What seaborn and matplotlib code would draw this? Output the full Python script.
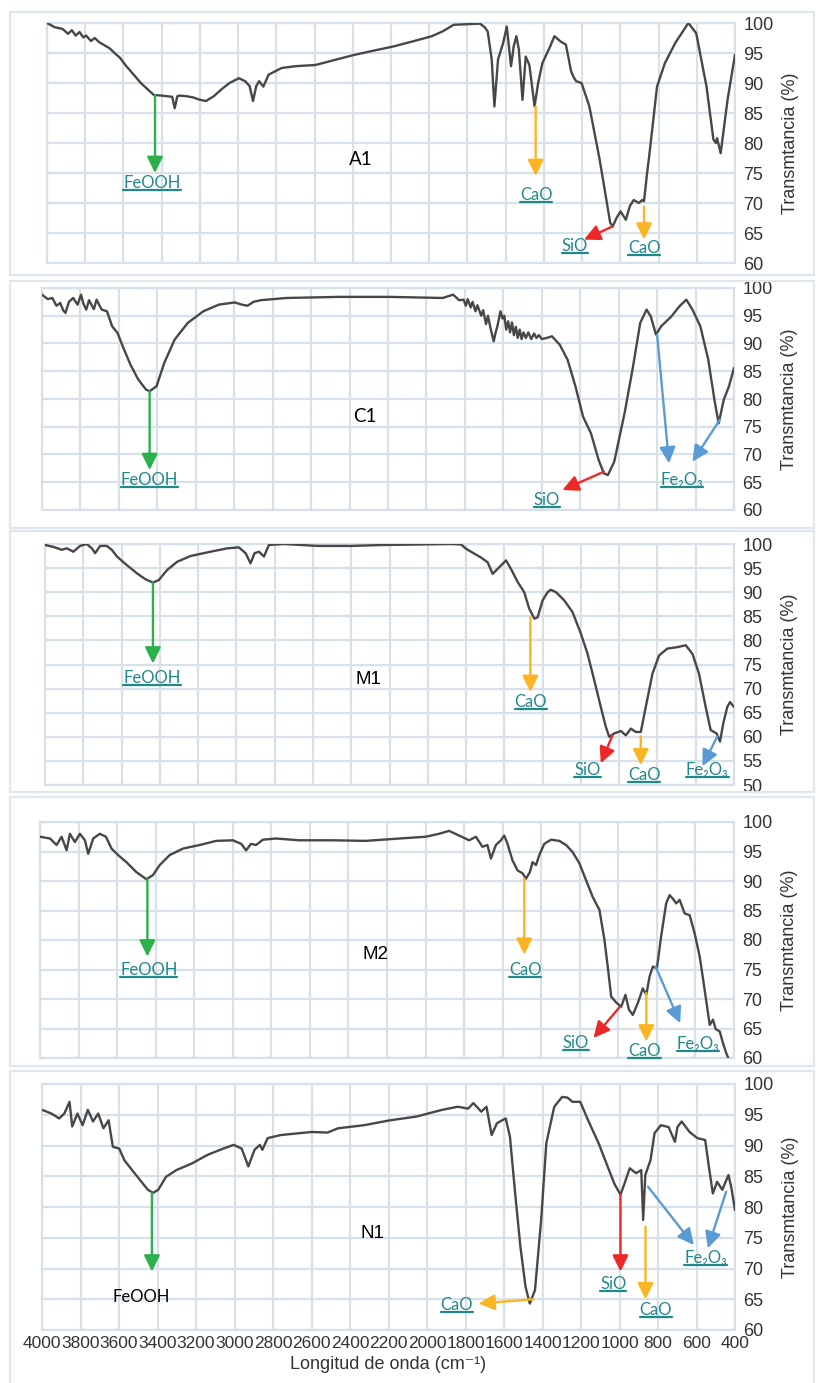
"""
FTIR spectra of five samples (A1, C1, M1, M2, N1) with band assignments.
"""
import matplotlib
matplotlib.use("Agg")
import matplotlib.pyplot as plt
import seaborn as sns
from matplotlib.patches import Rectangle
from matplotlib.lines import Line2D

# ---------------------------------------------------------------- data
A1_WN = [4000, 3960, 3918, 3890, 3870, 3850, 3830, 3810, 3795, 3770, 3750, 3727, 3700, 3673,
         3640, 3618, 3590, 3563, 3536, 3509, 3475, 3441, 3400, 3372, 3345, 3332, 3318, 3304,
         3270, 3236, 3200, 3168, 3127, 3085, 3045, 2996, 2963, 2940, 2922, 2905, 2890, 2868,
         2840, 2772, 2700, 2595, 2500, 2390, 2290, 2186, 2090, 1986, 1930, 1872, 1800, 1735,
         1710, 1694, 1673, 1659, 1640, 1613, 1594, 1572, 1558, 1544, 1531, 1512, 1495, 1476,
         1460, 1449, 1430, 1408, 1367, 1345, 1312, 1285, 1270, 1258, 1245, 1231, 1203, 1162,
         1108, 1053, 1040, 1020, 999, 971, 950, 930, 903, 885, 876, 860, 849, 808, 767, 712,
         644, 603, 549, 513, 500, 494, 475, 439, 400]
A1_T = [100.0, 99.3, 99.0, 98.2, 98.8, 97.9, 98.5, 97.6, 97.9, 97.0, 97.5, 96.8, 96.3, 95.8,
        94.8, 94.2, 93.0, 92.0, 91.0, 90.0, 89.0, 88.0, 87.9, 87.8, 87.7, 85.8, 87.8, 87.9,
        87.8, 87.6, 87.2, 87.0, 87.8, 89.0, 90.0, 90.8, 90.3, 89.5, 87.0, 89.5, 90.3, 89.4,
        91.4, 92.5, 92.8, 93.0, 93.8, 94.7, 95.4, 96.1, 96.9, 97.8, 98.6, 99.7, 99.8, 99.9,
        99.3, 98.6, 93.9, 86.1, 93.9, 96.7, 99.4, 92.8, 96.1, 97.8, 95.6, 87.2, 94.4, 93.0,
        89.0, 86.1, 90.0, 93.3, 96.1, 97.8, 96.9, 96.4, 94.0, 92.0, 91.0, 90.3, 90.0, 86.1,
        77.2, 66.7, 66.1, 67.5, 68.6, 67.2, 69.5, 70.5, 70.0, 70.5, 70.3, 75.0, 77.8, 89.4,
        93.3, 96.7, 100.0, 98.3, 89.4, 80.6, 80.0, 80.8, 78.3, 87.2, 94.7]

C1_WN = [4000, 3970, 3946, 3925, 3905, 3890, 3878, 3860, 3838, 3815,
         3797, 3785, 3770, 3755, 3743, 3730, 3716, 3700, 3689, 3662,
         3635, 3607, 3580, 3540, 3499, 3459, 3440, 3404, 3364, 3310,
         3242, 3161, 3080, 2998, 2960, 2931, 2900, 2863, 2728, 2457,
         2186, 1916, 1861, 1830, 1807, 1795, 1785, 1770, 1760, 1745,
         1735, 1715, 1705, 1690, 1680, 1665, 1650, 1640, 1631, 1615,
         1604, 1595, 1585, 1575, 1565, 1555, 1545, 1535, 1525, 1515,
         1505, 1495, 1483, 1470, 1455, 1440, 1428, 1415, 1400, 1374,
         1347, 1307, 1266, 1225, 1185, 1144, 1104, 1077, 1056, 1023, 969, 928, 888, 855, 833,
         806, 779, 725, 684, 648, 616, 575, 534, 502, 480, 453, 426, 400]
C1_T = [98.8, 98.0, 98.2, 96.8, 97.3, 96.0, 95.5, 97.5, 98.2, 97.0,
        98.8, 97.2, 96.1, 97.8, 97.0, 96.2, 97.9, 96.8, 96.1, 95.8,
        93.1, 91.9, 89.5, 86.2, 83.5, 81.7, 81.4, 82.3, 86.5, 90.7,
        93.7, 95.8, 97.0, 97.4, 97.0, 96.8, 97.5, 97.8, 98.2, 98.4,
        98.4, 98.2, 98.8, 97.8, 97.9, 96.8, 98.0, 96.5, 97.5, 95.8,
        96.9, 95.0, 96.0, 93.5, 95.0, 92.5, 90.4, 92.0, 93.1, 95.8,
        94.5, 95.0, 92.5, 94.0, 92.0, 93.8, 91.5, 93.0, 91.0, 92.5,
        90.8, 92.0, 91.0, 92.0, 90.8, 91.8, 91.0, 91.5, 90.8, 91.0,
        91.3, 89.8, 87.1, 82.3, 76.8, 73.8, 69.0, 66.6, 66.3, 68.7, 77.5, 85.3, 93.7, 96.1, 94.9,
        91.6, 93.1, 94.9, 96.7, 97.9, 96.1, 93.1, 87.1, 79.9, 75.6, 79.9, 82.3, 85.6]

M1_WN = [4000, 3956, 3913, 3886, 3852, 3817, 3782, 3755, 3738, 3712, 3677, 3651, 3624, 3572,
         3519, 3476, 3436, 3406, 3362, 3310, 3240, 3135, 3048, 2987, 2952, 2926, 2905, 2882,
         2856, 2830, 2751, 2576, 2401, 2227, 2052, 1877, 1826, 1800, 1757, 1722, 1687, 1661,
         1626, 1591, 1565, 1530, 1496, 1470, 1443, 1426, 1400, 1374, 1357, 1330, 1287, 1244,
         1200, 1165, 1130, 1096, 1070, 1052, 1026, 991, 965, 939, 913, 887, 861, 826, 791,
         748, 696, 652, 617, 583, 548, 522, 491, 473, 456, 435, 421, 400]
M1_T = [99.8, 99.4, 98.8, 99.1, 98.4, 99.6, 100.0, 99.1, 98.1, 99.6, 99.6, 98.8, 97.4, 95.6,
        93.9, 92.7, 92.0, 92.5, 94.6, 96.3, 97.5, 98.4, 99.1, 99.3, 98.1, 96.0, 98.1, 98.4,
        97.4, 99.8, 100.0, 99.6, 99.6, 99.8, 99.9, 100.0, 99.9, 99.0, 98.0, 97.2, 96.2, 93.8,
        95.2, 96.6, 94.8, 92.1, 90.0, 86.6, 84.5, 84.8, 88.3, 90.0, 90.5, 90.0, 88.3, 85.9,
        81.4, 77.2, 71.7, 66.2, 62.1, 60.0, 60.7, 61.2, 60.3, 61.7, 61.0, 61.0, 66.2, 73.1, 76.9,
        78.3, 78.6, 79.0, 77.2, 73.1, 66.2, 61.4, 60.7, 59.0, 62.8, 66.2, 67.2, 66.2]

M2_WN = [4000, 3948, 3914, 3888, 3862, 3845, 3819, 3793, 3767, 3750, 3724, 3690, 3658, 3629,
         3595, 3552, 3500, 3448, 3414, 3379, 3327, 3258, 3172, 3086, 3000, 2956, 2931, 2905,
         2879, 2844, 2775, 2655, 2482, 2310, 2137, 2000, 1930, 1878, 1826, 1774, 1739, 1705,
         1679, 1661, 1635, 1609, 1592, 1575, 1549, 1523, 1497, 1479, 1459, 1445, 1427, 1410,
         1384, 1349, 1306, 1271, 1237, 1202, 1167, 1133, 1098, 1072, 1055, 1037, 1011, 985,
         963, 945, 925, 899, 873, 855, 838, 821, 800, 778, 752, 734, 717, 700, 682, 656, 630,
         604, 578, 552, 526, 509, 495, 474, 457, 440, 426]
M2_T = [97.5, 97.2, 96.1, 97.5, 95.2, 98.0, 96.6, 98.0, 96.9, 94.6, 97.2, 98.0, 97.5, 95.5,
        94.4, 93.2, 91.5, 90.3, 91.0, 92.7, 94.4, 95.5, 96.1, 96.8, 96.9, 96.3, 95.2, 96.3,
        96.1, 97.0, 97.2, 96.9, 96.9, 96.8, 97.2, 97.5, 98.0, 98.5, 97.7, 96.9, 97.5, 95.8,
        96.1, 93.8, 96.1, 96.9, 97.7, 96.3, 93.5, 91.8, 91.3, 90.4, 91.5, 93.2, 92.7, 94.4,
        96.3, 97.0, 96.8, 96.1, 94.9, 93.0, 90.1, 87.3, 85.1, 80.0, 75.5, 70.4, 69.4, 68.7,
        70.7, 68.2, 67.3, 69.3, 71.8, 70.7, 73.8, 75.5, 75.2, 80.6, 86.2, 87.6, 87.0, 86.2,
        86.8, 84.5, 84.2, 81.1, 77.2, 71.5, 65.6, 66.5, 64.9, 64.5, 62.5, 60.8, 59.7]

N1_WN = [4000, 3951, 3911, 3884, 3857, 3843, 3816, 3789, 3762, 3735, 3708, 3681, 3654, 3632,
         3599, 3572, 3532, 3491, 3450, 3423, 3396, 3356, 3302, 3220, 3139, 3058, 3004, 2963,
         2928, 2896, 2868, 2855, 2828, 2760, 2598, 2517, 2462, 2327, 2192, 2056, 1921, 1840,
         1786, 1759, 1718, 1691, 1664, 1637, 1610, 1591, 1569, 1542, 1515, 1488, 1466, 1439,
         1407, 1380, 1339, 1298, 1271, 1244, 1204, 1163, 1109, 1068, 1027, 995, 974, 947, 914,
         887, 877, 866, 839, 818, 785, 745, 712, 699, 677, 636, 596, 555, 536, 515, 493, 466,
         434, 420, 400]
N1_T = [95.8, 95.2, 94.4, 95.2, 97.1, 93.1, 95.2, 93.3, 95.8, 93.9, 95.2, 92.8, 94.1, 89.8,
        89.5, 87.6, 86.0, 84.4, 82.8, 82.3, 82.8, 84.9, 86.0, 87.1, 88.5, 89.5, 90.1, 89.5,
        86.6, 89.3, 90.1, 89.3, 91.2, 91.7, 92.2, 92.1, 92.8, 93.3, 94.1, 94.7, 95.8, 96.3,
        96.0, 96.9, 95.5, 96.3, 91.7, 93.6, 94.1, 94.4, 91.4, 82.2, 73.6, 67.0, 64.3, 66.5,
        77.9, 90.4, 96.3, 97.9, 97.8, 97.1, 97.1, 94.1, 90.4, 87.1, 83.8, 82.0, 83.8, 86.3, 85.5,
        86.0, 77.9, 85.2, 87.6, 92.0, 93.3, 93.0, 90.6, 93.0, 93.9, 92.2, 91.2, 90.9, 86.6,
        82.2, 84.1, 82.8, 85.2, 83.3, 79.5]

PANEL_NAMES = ["A1", "C1", "M1", "M2", "N1"]
PANEL_WN = [A1_WN, C1_WN, M1_WN, M2_WN, N1_WN]
PANEL_T = [A1_T, C1_T, M1_T, M2_T, N1_T]
PANEL_YMIN = [60, 60, 50, 60, 60]
# sample label position (wavenumber, transmittance)
PANEL_LABEL_POS = [(2357, 77.3), (2322, 76.8), (2309, 71.9), (2258, 77.5), (2286, 75.7)]

# band assignments: (label, kind, start, tip, label position, underline)
BANDS = {
    "A1": [("FeOOH", "g", (3435, 88.0), (3435, 75.0), (3450, 73.3), True),
           ("CaO", "o", (1443, 86.1), (1443, 74.5), (1441, 71.4), True),
           ("SiO", "r", (1040, 66.1), (1190, 63.9), (1239, 62.8), True),
           ("CaO", "o", (876, 69.4), (876, 63.9), (876, 62.5), True)],
    "C1": [("FeOOH", "g", (3440, 81.4), (3440, 67.2), (3440, 65.4), True),
           ("SiO", "r", (1077, 66.9), (1293, 63.6), (1374, 61.8), True),
           ("Fe\u2082O\u2083", "b", (800, 91.6), (738, 68.4), (670, 65.4), True),
           (None, "b", (473, 76.3), (616, 68.7), None, False)],
    "M1": [("FeOOH", "g", (3436, 92.0), (3436, 75.2), (3441, 72.1), True),
           ("CaO", "o", (1464, 84.8), (1464, 69.3), (1461, 67.2), True),
           ("SiO", "r", (1035, 60.3), (1096, 54.5), (1165, 53.2), True),
           ("CaO", "o", (887, 60.1), (887, 54.1), (870, 52.1), True),
           ("Fe\u2082O\u2083", "b", (487, 60.1), (565, 53.9), (540, 53.2), True)],
    "M2": [("FeOOH", "g", (3443, 90.3), (3443, 77.2), (3436, 74.9), True),
           ("CaO", "o", (1488, 90.4), (1488, 77.5), (1483, 74.9), True),
           ("SiO", "r", (994, 68.6), (1129, 63.4), (1219, 62.5), True),
           ("CaO", "o", (855, 71.0), (855, 62.8), (864, 61.2), True),
           ("Fe\u2082O\u2083", "b", (807, 75.5), (679, 65.9), (587, 62.3), True)],
    "N1": [("FeOOH", "g", (3429, 82.3), (3429, 69.5), (3486, 65.3), False),
           ("CaO", "o", (1447, 65.0), (1732, 64.3), (1845, 64.1), True),
           ("SiO", "r", (995, 82.0), (995, 69.5), (1033, 67.5), True),
           ("CaO", "o", (865, 76.8), (865, 65.0), (811, 63.3), True),
           ("Fe\u2082O\u2083", "b", (852, 83.3), (614, 73.8), (554, 71.7), True),
           (None, "b", (446, 82.5), (541, 73.3), None, False)],
}

ARROW_COLORS = {"g": "#2bb14c", "o": "#fbb423", "r": "#ec2828", "b": "#5b9bd5"}
TEAL = "#23888a"
LINE = "#474747"
GRID = "#d9e1e8"
FRAME = "#dfe6ec"
TXT = "#333333"

# panel boxes in pixels: (left, top, right, bottom) of plotting area
W, H = 816, 1383
AX_PX = [(47, 23, 735, 263), (42, 288, 734, 510), (45, 544, 734, 785),
         (40, 822, 734, 1058), (42, 1084, 735, 1330)]
FRAME_PX = [(10, 12, 814, 275), (10, 281, 814, 528), (10, 531, 814, 792),
            (10, 797, 814, 1066), (10, 1071, 814, 1392)]

sns.set_style("white")
plt.rcParams["font.family"] = ["Liberation Sans", "DejaVu Sans"]
LABEL_FONT = ["Lato", "DejaVu Sans"]

fig = plt.figure(figsize=(W / 100, H / 100), dpi=100)

for fx0, fy0, fx1, fy1 in FRAME_PX:
    fig.add_artist(Rectangle((fx0 / W, 1 - fy1 / H), (fx1 - fx0) / W, (fy1 - fy0) / H,
                             transform=fig.transFigure, fill=False, ec=FRAME, lw=1.6))

underlined = []
for i, name in enumerate(PANEL_NAMES):
    x0, y0, x1, y1 = AX_PX[i]
    ax = fig.add_axes([x0 / W, 1 - y1 / H, (x1 - x0) / W, (y1 - y0) / H])
    ax.set_facecolor("none")

    sns.lineplot(x=PANEL_WN[i], y=PANEL_T[i], ax=ax, sort=False, estimator=None,
                 color=LINE, lw=1.7, zorder=3)

    ymin = PANEL_YMIN[i]
    ax.set_xlim(4000, 400)
    ax.set_ylim(ymin, 100)
    ax.set_xticks(range(400, 4001, 200))
    ax.set_yticks(range(ymin, 101, 5))
    ax.grid(True, color=GRID, lw=1.6)
    ax.set_axisbelow(True)
    for sp in ax.spines.values():
        sp.set_color(GRID)
        sp.set_linewidth(1.6)

    ax.yaxis.tick_right()
    ax.yaxis.set_label_position("right")
    ax.tick_params(length=0, labelcolor=TXT, pad=6)
    ax.tick_params(axis="y", labelsize=13)
    ax.tick_params(axis="x", labelsize=12.5)
    ax.set_ylabel("Transmtancia (%)", fontsize=13, color=TXT, labelpad=6)
    if i == len(PANEL_NAMES) - 1:
        ax.tick_params(axis="x", pad=4)
        ax.set_xlabel("Longitud de onda (cm\u207b\u00b9)", fontsize=13, color=TXT,
                      labelpad=4)
    else:
        ax.set_xticklabels([])
        ax.set_xlabel("")

    lx, ly = PANEL_LABEL_POS[i]
    ax.text(lx, ly, name, ha="center", va="center", fontsize=13.5, color="black",
            family=LABEL_FONT if name in ("A1", "C1") else None, zorder=5)

    for label, kind, start, tip, lpos, uline in BANDS[name]:
        ax.annotate("", xy=tip, xytext=start, zorder=4,
                    arrowprops=dict(arrowstyle="-|>,head_length=0.65,head_width=0.32",
                                    color=ARROW_COLORS[kind], lw=1.7, mutation_scale=15,
                                    shrinkA=0, shrinkB=0))
        if label is None:
            continue
        t = ax.text(lpos[0], lpos[1], label, ha="center", va="center", fontsize=12,
                    color=TEAL if uline else "black", family=LABEL_FONT, zorder=5)
        if uline:
            underlined.append(t)

# underline the assignment labels
fig.canvas.draw()
renderer = fig.canvas.get_renderer()
inv = fig.transFigure.inverted()
for t in underlined:
    bb = t.get_window_extent(renderer)
    (ux0, uy), (ux1, _) = inv.transform([(bb.x0, bb.y0 + 1), (bb.x1, bb.y0)])
    fig.add_artist(Line2D([ux0, ux1], [uy, uy], transform=fig.transFigure,
                          color=TEAL, lw=1.6))

fig.savefig("out.png", dpi=100)
